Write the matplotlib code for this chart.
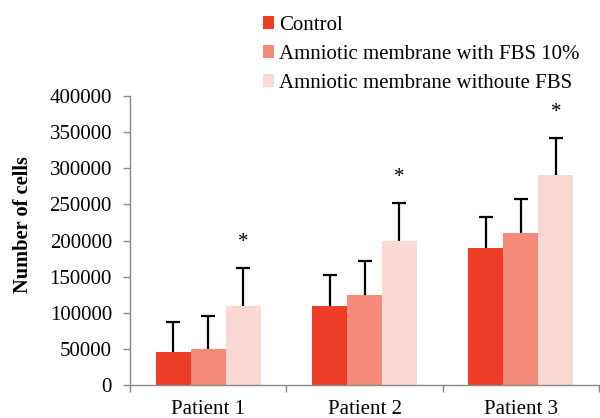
import matplotlib
matplotlib.use("Agg")
import matplotlib.pyplot as plt
import numpy as np
from matplotlib.patches import Patch

plt.rcParams['font.family'] = ['Liberation Serif', 'DejaVu Serif']

categories = ["Patient 1", "Patient 2", "Patient 3"]
series_names = ["Control", "Amniotic membrane with FBS 10%", "Amniotic membrane withoute FBS"]
control = [45000, 110000, 190000]
fbs10 = [50000, 125000, 210000]
without_fbs = [110000, 200000, 290000]
control_err = [42000, 42000, 43000]
fbs10_err = [46000, 47000, 47500]
without_err = [52000, 52000, 52000]
star_series = [False, False, True]
yticks = [0, 50000, 100000, 150000, 200000, 250000, 300000, 350000, 400000]

colors = ["#EE3D26", "#F48A7A", "#FAD8D4"]

fig = plt.figure(figsize=(6.0, 4.18), dpi=100)
ax = fig.add_axes([130/600, 33/418, 469/600, 289/418])

x = np.arange(len(categories))
w = 0.2234
values = [control, fbs10, without_fbs]
errs = [control_err, fbs10_err, without_err]
for i, (vals, err, c) in enumerate(zip(values, errs, colors)):
    pos = x + (i - 1) * w
    ax.bar(pos, vals, width=w, color=c, edgecolor='none', zorder=2)
    eb = ax.errorbar(pos, vals, yerr=[np.zeros(len(err)), err], fmt='none',
                     ecolor='black', elinewidth=1.6, capsize=4.8, capthick=1.6, zorder=3)
    caps = eb[1]
    if len(caps) >= 2:
        caps[0].set_visible(False)
    if star_series[i]:
        for p, v, e in zip(pos, vals, err):
            ax.text(p, v + e + 35000, "*", ha='center', va='center', fontsize=15)

ax.set_xlim(-0.5, 2.5)
ax.set_ylim(0, 400000)
ax.set_yticks(yticks)
ax.set_yticklabels([str(t) for t in yticks], fontsize=15)
ax.set_xticks([-0.5, 0.5, 1.5, 2.5])
ax.set_xticklabels([])
ax.set_xticks(x, minor=True)
ax.set_xticklabels(categories, minor=True, fontsize=15)
ax.tick_params(axis='x', which='minor', length=0, pad=11)
ax.tick_params(axis='x', which='major', length=5, width=1, color='#888888', direction='out')
ax.tick_params(axis='y', length=5, width=1, color='#888888', direction='out', pad=8)
for s in ['top', 'right']:
    ax.spines[s].set_visible(False)
for s in ['left', 'bottom']:
    ax.spines[s].set_color('#888888')
    ax.spines[s].set_linewidth(1)

ax.set_ylabel("Number of cells", fontsize=14.7, fontweight='bold')
ax.yaxis.set_label_coords(-0.207, 0.554)

handles = [Patch(facecolor=c, edgecolor='none') for c in colors]
fig.legend(handles, series_names, loc='upper left', bbox_to_anchor=(263/600, 1 - 16/418),
           frameon=False, fontsize=15, handlelength=0.53, handleheight=0.53,
           handletextpad=0.25, labelspacing=0.48, borderaxespad=0, borderpad=0)

fig.savefig("out.png", dpi=100)
